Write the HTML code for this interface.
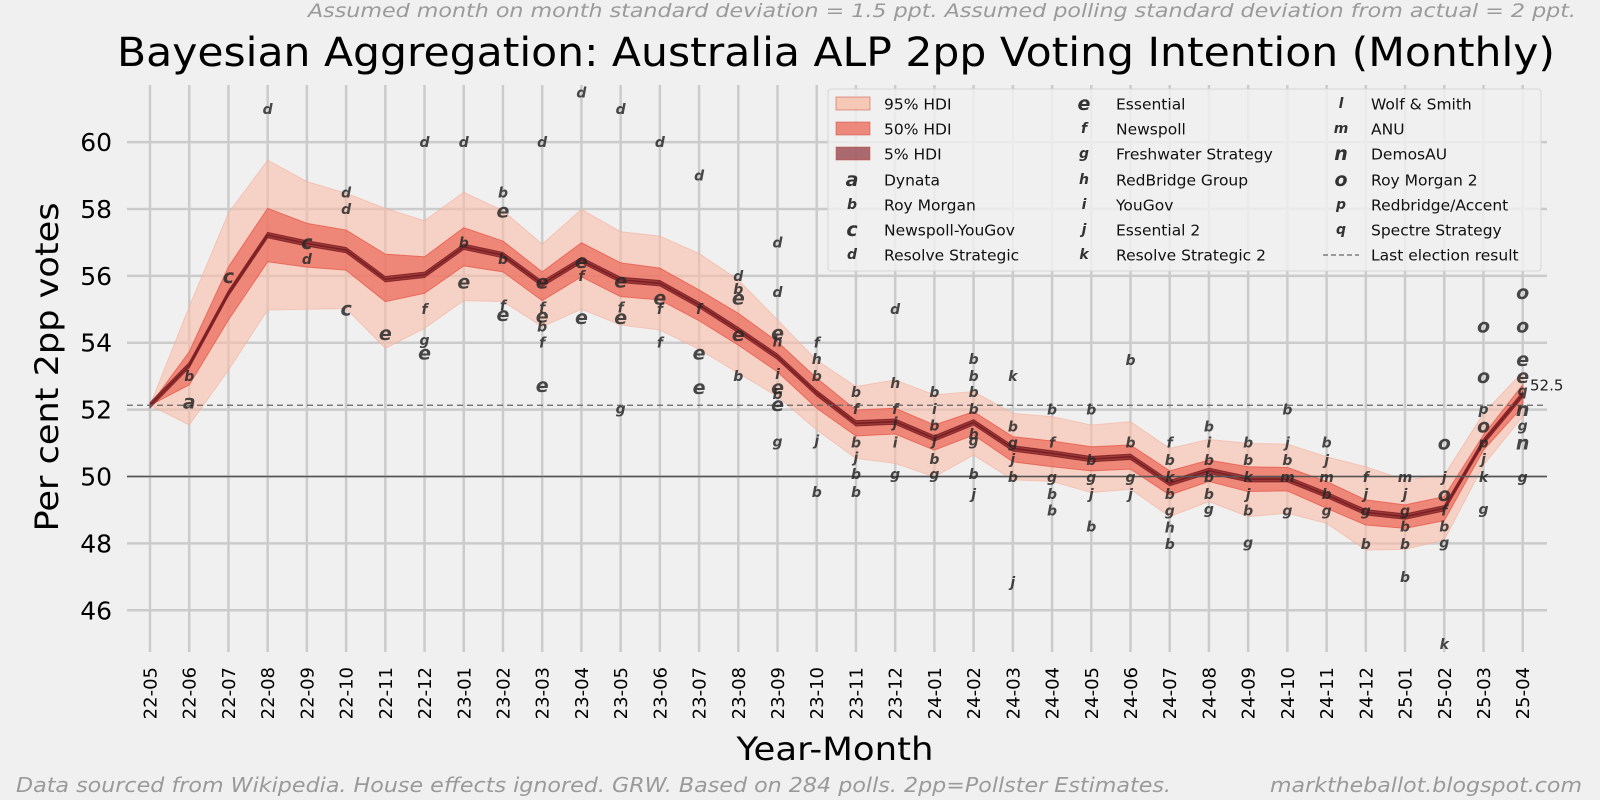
<!DOCTYPE html>
<html><head><meta charset="utf-8"><style>
html,body{margin:0;padding:0;background:#f0f0f0;}
svg{display:block;font-family:"DejaVu Sans","Liberation Sans",sans-serif;}
</style></head><body>
<svg id="chart" width="1600" height="800" viewBox="0 0 1600 800" xmlns="http://www.w3.org/2000/svg">
<rect x="0" y="0" width="1600" height="800" fill="#f0f0f0"/>
<text x="1576" y="17" text-anchor="end" textLength="1268" lengthAdjust="spacingAndGlyphs" font-size="19" font-style="italic" fill="#9a9a9a">Assumed month on month standard deviation = 1.5 ppt. Assumed polling standard deviation from actual = 2 ppt.</text>
<text x="117" y="66" textLength="1438" lengthAdjust="spacingAndGlyphs" font-size="40" fill="#000">Bayesian Aggregation: Australia ALP 2pp Voting Intention (Monthly)</text>
<g id="grid"></g>
<g id="bands"></g>
<g id="refs"></g>
<g id="polls"></g>
<g id="axes"></g>
<text transform="translate(58,367) rotate(-90)" text-anchor="middle" textLength="329" lengthAdjust="spacingAndGlyphs" font-size="32" fill="#000">Per cent 2pp votes</text>
<text x="835" y="760" text-anchor="middle" textLength="197" lengthAdjust="spacingAndGlyphs" font-size="32" fill="#000">Year-Month</text>
<text x="16" y="792" textLength="1155" lengthAdjust="spacingAndGlyphs" font-size="20" font-style="italic" fill="#9a9a9a">Data sourced from Wikipedia. House effects ignored. GRW. Based on 284 polls. 2pp=Pollster Estimates.</text>
<text x="1582" y="792" text-anchor="end" textLength="312" lengthAdjust="spacingAndGlyphs" font-size="20" font-style="italic" fill="#9a9a9a">marktheballot.blogspot.com</text>
<g id="legend"></g>
</svg>
<script>
const months = ["22-05","22-06","22-07","22-08","22-09","22-10","22-11","22-12","23-01","23-02","23-03","23-04","23-05","23-06","23-07","23-08","23-09","23-10","23-11","23-12","24-01","24-02","24-03","24-04","24-05","24-06","24-07","24-08","24-09","24-10","24-11","24-12","25-01","25-02","25-03","25-04"];
const median = [52.13,53.33,55.48,57.22,56.97,56.77,55.9,56.03,56.87,56.62,55.76,56.47,55.88,55.78,55.13,54.38,53.58,52.49,51.59,51.64,51.14,51.62,50.84,50.69,50.52,50.59,49.8,50.17,49.92,49.92,49.45,48.93,48.8,49.05,51.04,52.45];
const hi95 = [52.13,55.08,57.88,59.46,58.82,58.47,58.02,57.65,58.5,57.95,56.95,57.99,57.32,57.19,56.67,55.88,54.68,53.48,52.69,52.89,52.44,52.54,51.89,51.79,51.54,51.64,50.84,51.11,50.99,50.97,50.59,50.29,49.9,50.04,51.89,53.13];
const lo95 = [52.13,51.54,53.18,54.98,55.0,55.02,53.83,54.43,55.26,55.23,54.48,55.0,54.53,54.38,53.8,53.09,52.39,51.39,50.54,50.39,49.99,50.64,49.9,49.85,49.52,49.62,48.8,49.25,48.8,48.9,48.6,47.8,47.82,48.1,50.34,51.79];
const hi50 = [52.13,53.73,56.27,58.02,57.57,57.37,56.65,56.57,57.44,57.04,56.12,56.99,56.39,56.23,55.58,54.88,54.03,52.94,51.99,52.04,51.54,51.94,51.19,51.06,50.89,50.94,50.17,50.49,50.29,50.27,49.85,49.3,49.15,49.4,51.24,52.74];
const lo50 = [52.13,52.74,54.68,56.42,56.26,56.17,55.23,55.48,56.3,56.12,55.26,55.97,55.38,55.28,54.66,53.93,53.13,52.04,51.21,51.27,50.79,51.24,50.44,50.29,50.17,50.22,49.45,49.85,49.55,49.57,49.05,48.55,48.45,48.68,50.79,52.09];
const yTicks = [46,48,50,52,54,56,58,60];
const lastElection = 52.13;
const finalLabel = "52.5";
const pollMonth = [1,1,2,3,4,4,5,5,5,6,7,7,7,7,8,8,8,9,9,9,9,9,10,10,10,10,10,10,10,11,11,11,11,12,12,12,12,12,13,13,13,13,14,14,14,14,15,15,15,15,15,16,16,16,16,16,16,16,16,16,17,17,17,17,17,18,18,18,18,18,18,19,19,19,19,19,19,20,20,20,20,20,20,21,21,21,21,21,21,21,21,22,22,22,22,22,22,23,23,23,23,23,24,24,24,24,24,25,25,25,25,26,26,26,26,26,26,26,27,27,27,27,27,27,28,28,28,28,28,28,29,29,29,29,29,30,30,30,30,30,31,31,31,31,32,32,32,32,32,32,33,33,33,33,33,33,33,34,34,34,34,34,34,34,34,35,35,35,35,35,35,35,35,35];
const pollValue = [52.98,52.21,55.97,60.96,56.99,56.47,58.47,57.97,55.0,54.26,59.98,54.98,54.05,53.68,59.98,56.97,55.8,58.47,57.92,56.47,55.08,54.83,59.98,55.8,55.03,54.78,54.46,53.98,52.71,61.46,56.42,55.97,54.74,60.96,55.83,55.03,54.74,52.01,59.98,55.33,54.98,53.98,58.97,54.98,53.68,52.64,55.97,55.58,55.33,54.23,52.98,56.97,55.48,54.28,54.0,53.04,52.64,52.44,52.14,51.01,53.98,53.48,52.98,51.04,49.5,52.49,51.99,50.99,50.54,50.05,49.5,54.98,52.77,51.99,51.59,50.99,50.05,52.49,51.99,51.49,51.04,50.49,50.05,53.48,52.98,52.49,51.99,51.24,51.04,50.05,49.45,52.97,51.47,50.99,50.49,49.95,46.81,51.97,50.99,49.95,49.45,48.95,51.97,50.47,49.95,49.45,48.48,53.46,50.99,49.95,49.45,50.99,50.47,49.95,49.45,48.95,48.45,47.95,51.47,50.99,50.47,49.95,49.45,49.0,50.99,50.47,49.95,49.45,48.95,48.0,51.97,50.99,50.47,49.95,48.95,50.99,50.47,49.95,49.45,48.95,49.95,49.45,48.95,47.95,49.95,49.45,48.95,48.48,47.95,46.96,50.99,49.95,49.45,48.95,48.48,48.0,44.96,54.48,52.98,51.99,51.49,50.99,50.49,49.95,49.0,55.48,54.48,53.48,52.98,52.54,51.99,51.49,50.99,49.95];
const pollLetter = ["b","a","c","d","c","d","d","d","c","e","d","f","g","e","d","b","e","b","e","b","f","e","d","e","f","e","b","f","e","d","e","f","e","d","e","f","e","g","d","e","f","f","d","f","e","e","d","b","e","e","b","d","d","e","h","i","e","b","e","g","f","h","b","j","b","b","f","b","j","b","b","d","h","f","j","i","g","b","i","b","j","b","g","b","b","b","b","b","g","b","j","k","b","g","j","b","j","b","f","g","b","b","b","b","g","j","b","b","b","g","j","f","b","k","b","g","h","b","b","i","b","b","b","g","b","b","k","j","b","g","b","j","b","m","g","b","j","m","b","g","f","j","g","b","m","j","g","b","b","b","o","j","o","f","b","g","k","o","o","p","o","p","j","k","g","o","o","e","e","q","n","g","n","g"];

const NS = "http://www.w3.org/2000/svg";
const X0 = 150, DX = 39.22, Y50 = 476.5, PPU = 33.44;
const PL = 127, PR = 1547, PT = 85, PB = 652;
function xs(i){ return X0 + i*DX; }
function ys(v){ return Y50 - (v-50)*PPU; }
function mk(tag, attrs, parent){ const e=document.createElementNS(NS,tag); for(const k in attrs) e.setAttribute(k,attrs[k]); parent.appendChild(e); return e; }

const grid = document.getElementById('grid');
months.forEach((m,i)=>{
  const l = mk('line',{x1:xs(i),x2:xs(i),y1:PT,y2:PB,stroke:'#cbcbcb','stroke-width':2.5},grid);
  
  
});
yTicks.forEach(v=>{
  const l = mk('line',{x1:PL,x2:PR,y1:ys(v),y2:ys(v),stroke:'#cbcbcb','stroke-width':2.5},grid);
  
  
});

const bands = document.getElementById('bands');
function band(hi, lo, fill, stroke, name){
  let d = 'M' + hi.map((v,i)=>xs(i)+','+ys(v)).join(' L');
  for(let i=lo.length-1;i>=0;i--) d += ' L'+xs(i)+','+ys(lo[i]);
  d += ' Z';
  const p = mk('path',{d:d,fill:fill,stroke:stroke,'stroke-width':1},bands);
  
  
}
band(hi95, lo95, 'rgba(248,190,168,0.6)', 'rgba(245,170,150,0.5)', 'band-95-hdi');
band(hi50, lo50, 'rgba(236,110,95,0.75)', 'rgba(230,80,65,0.7)', 'band-50-hdi');
band(median.map(v=>v+0.08), median.map(v=>v-0.08), 'rgba(120,25,30,0.7)', 'rgba(110,20,25,0.7)', 'band-5-hdi');
const ml = mk('polyline',{points:median.map((v,i)=>xs(i)+','+ys(v)).join(' '),fill:'none',stroke:'#7a1c22','stroke-width':1.5},bands);



const refs = document.getElementById('refs');
const l50 = mk('line',{x1:PL,x2:PR,y1:ys(50),y2:ys(50),stroke:'#555','stroke-width':1.6},refs);


const le = mk('line',{x1:PL,x2:PR,y1:ys(lastElection),y2:ys(lastElection),stroke:'#666','stroke-width':1.3,'stroke-dasharray':'6,4'},refs);



const polls = document.getElementById('polls');
const big = {a:1,c:1,e:1,n:1,o:1};
pollMonth.forEach((m,k)=>{
  const L = pollLetter[k];
  const t = mk('text',{x:xs(m),y:ys(pollValue[k]),'text-anchor':'middle','dominant-baseline':'central','font-style':'italic','font-weight':'bold','font-size':big[L]?19:14,fill:'rgba(40,40,40,0.85)'},polls);
  t.textContent = L;
  
  
});
const fl = mk('text',{x:1530,y:ys(median[median.length-1])-4,'font-size':15,fill:'#222'},polls);
fl.textContent = finalLabel;



const axes = document.getElementById('axes');
yTicks.forEach(v=>{
  const t = mk('text',{x:112,y:ys(v)+9,'text-anchor':'end','font-size':25,fill:'#000'},axes);
  t.textContent = v;
  
  
});
months.forEach((m,i)=>{
  const t = mk('text',{transform:'translate('+(xs(i)+6.5)+',667) rotate(-90)','text-anchor':'end','font-size':18,fill:'#000'},axes);
  t.textContent = m;
  
  
});

const legend = document.getElementById('legend');
const lb = mk('rect',{x:828,y:89,width:713,height:182,rx:3,fill:'rgba(240,240,240,0.85)',stroke:'#d6d6d6','stroke-width':1},legend);


const rowsY = [104,129,154,180,205,230,255];
const col1 = [["patch","rgba(248,190,168,0.8)","95% HDI"],["patch","rgba(236,110,95,0.8)","50% HDI"],["patch","rgba(140,45,55,0.7)","5% HDI"],["a","","Dynata"],["b","","Roy Morgan"],["c","","Newspoll-YouGov"],["d","","Resolve Strategic"]];
const col2 = [["e","","Essential"],["f","","Newspoll"],["g","","Freshwater Strategy"],["h","","RedBridge Group"],["i","","YouGov"],["j","","Essential 2"],["k","","Resolve Strategic 2"]];
const col3 = [["l","","Wolf & Smith"],["m","","ANU"],["n","","DemosAU"],["o","","Roy Morgan 2"],["p","","Redbridge/Accent"],["q","","Spectre Strategy"],["dash","","Last election result"]];
function legCol(items, mx, tx){
  items.forEach((it,r)=>{
    const y = rowsY[r];
    const g = mk('g',{},legend);
    
    
    if(it[0]==='patch'){
      mk('rect',{x:836,y:y-7,width:34,height:13,fill:it[1],stroke:'rgba(200,70,60,0.5)'},g);
    } else if(it[0]==='dash'){
      mk('line',{x1:mx-18,x2:mx+18,y1:y,y2:y,stroke:'#666','stroke-width':1.3,'stroke-dasharray':'5,3'},g);
    } else {
      const t = mk('text',{x:mx,y:y,'text-anchor':'middle','dominant-baseline':'central','font-style':'italic','font-weight':'bold','font-size':big[it[0]]?19:14,fill:'#333'},g);
      t.textContent = it[0];
    }
    const t2 = mk('text',{x:tx,y:y+5.5,'font-size':15.5,fill:'#111'},g);
    t2.textContent = it[2];
  });
}
legCol(col1, 852, 884);
legCol(col2, 1084, 1116);
legCol(col3, 1341, 1371);
</script>
</body></html>
